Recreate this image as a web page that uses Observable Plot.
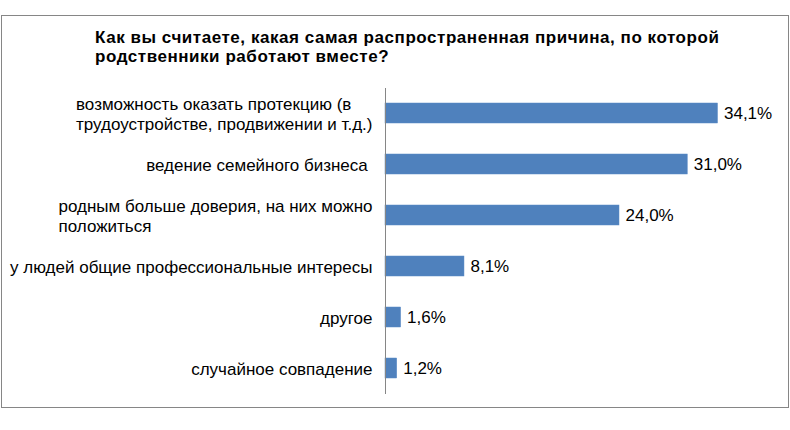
<!DOCTYPE html>
<html>
<head>
<meta charset="utf-8">
<script src="https://cdn.jsdelivr.net/npm/d3@7"></script>
<script src="https://cdn.jsdelivr.net/npm/@observablehq/plot@0.6"></script>
<style>
  html, body { margin: 0; padding: 0; background: #fff; }
  body { width: 790px; height: 430px; position: relative; overflow: hidden; font-family: "Liberation Sans", Arial, sans-serif; }
  #frame { position: absolute; left: 1px; top: 15px; width: 786px; height: 391px; border: 1px solid #868686; }
  #title { position: absolute; left: 95px; top: 28px; font-size: 17px; letter-spacing: 0.55px; font-weight: bold; line-height: 19px; color: #000; white-space: nowrap; }
  #chart { position: absolute; left: 0; top: 0; }
</style>
</head>
<body>
<div id="frame"></div>
<div id="title">Как вы считаете, какая самая распространенная причина, по которой<br>родственники работают вместе?</div>
<div id="chart"></div>
<script>
const categories = [
  "возможность оказать протекцию (в\nтрудоустройстве, продвижении и т.д.)",
  "ведение семейного бизнеса\u00a0",
  "родным больше доверия, на них можно\nположиться",
  "у людей общие профессиональные интересы",
  "другое",
  "случайное совпадение"
];
const values = [34.1, 31.0, 24.0, 8.1, 1.6, 1.2];

const data = categories.map((c, i) => ({category: c, value: values[i]}));
const fmt = v => v.toFixed(1).replace(".", ",") + "%";

const plot = Plot.plot({
  width: 790,
  height: 430,
  marginTop: 88,
  marginBottom: 36,
  marginLeft: 385,
  marginRight: 15,
  style: {fontFamily: "'Liberation Sans', Arial, sans-serif", fontSize: "17px", color: "#000", background: "transparent"},
  x: {domain: [0, 40], axis: null},
  y: {domain: categories, paddingInner: 0.6, paddingOuter: 0.3, label: null},
  marks: [
    Plot.barX(data, {x: "value", y: "category", fill: "#4F81BD", stroke: "#5a8ac6", strokeWidth: 0.5}),
    Plot.text(data, {x: "value", y: "category", text: d => fmt(d.value), textAnchor: "start", dx: 6, fontSize: 17, fill: "#000"}),
    Plot.ruleX([0], {stroke: "#868686", strokeWidth: 1}),
    Plot.axisY({tickSize: 0, tickPadding: 13, fontSize: 17, lineHeight: 1.15, label: null, fill: "#000"})
  ]
});
document.getElementById("chart").appendChild(plot);

// Left-align the wrapped (multi-line) category labels inside their right-aligned block, as in the original
plot.querySelectorAll("g[aria-label='y-axis tick label'] text").forEach(t => {
  const spans = t.querySelectorAll("tspan");
  if (spans.length > 1) {
    const w = t.getBBox().width;
    t.setAttribute("text-anchor", "start");
    spans.forEach(s => s.setAttribute("x", -w));
  }
});
</script>
</body>
</html>
